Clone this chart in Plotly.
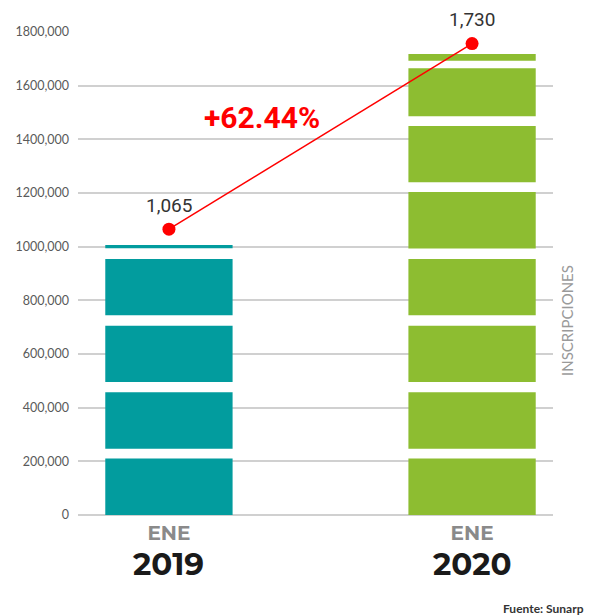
import plotly.graph_objects as go

# categories
years = ["2019", "2020"]
month_label = "ENE"

# bar segments (bottom / top, in units)
seg_2019_base = [0, 247000, 496000, 744000, 994000]
seg_2019_top = [211000, 457000, 705000, 954000, 1006000]
seg_2020_base = [0, 247000, 496000, 744000, 993000, 1240000, 1486000, 1693000]
seg_2020_top = [211000, 457000, 705000, 954000, 1204000, 1450000, 1665000, 1718000]

# trend points
point_y = [1065000, 1757000]
point_labels = ["1,065", "1,730"]
growth_label = "+62.44%"

tick_vals = [0, 200000, 400000, 600000, 800000, 1000000, 1200000, 1400000, 1600000, 1800000]
tick_text = ["0", "200,000", "400,000", "600,000", "800,000", "1000,000",
             "1200,000", "1400,000", "1600,000", "1800,000"]

colors = ["#029c9e", "#8dbd31"]

# plot area in window pixels (page body adds an 8px offset)
PX_L, PX_R, PX_T, PX_B = 78, 553, 32, 515
OFF = 8


def paper_xy(px, py):
    return (px - PX_L) / (PX_R - PX_L), (PX_B - py) / (PX_B - PX_T)


fig = go.Figure()

for year, bases, tops, col in [(years[0], seg_2019_base, seg_2019_top, colors[0]),
                               (years[1], seg_2020_base, seg_2020_top, colors[1])]:
    fig.add_trace(go.Bar(
        x=[year] * len(bases),
        base=bases,
        y=[t - b for b, t in zip(bases, tops)],
        marker_color=col,
        marker_line_width=0,
        width=0.42,
        showlegend=False,
        hoverinfo="skip"
    ))

fig.add_trace(go.Scatter(
    x=years,
    y=point_y,
    mode="lines+markers",
    line=dict(color="#ff0000", width=1.5),
    marker=dict(color="#ff0000", size=13),
    showlegend=False,
    cliponaxis=False
))

for i, (yv, lab) in enumerate(zip(point_y, point_labels)):
    fig.add_annotation(x=i, y=yv, text=lab, showarrow=False, yshift=24,
                       font=dict(family="Roboto, Arial", size=19, color="#333333"))

for i, year in enumerate(years):
    fig.add_annotation(x=i, y=0, yref="paper", text="<b>" + year + "</b>",
                       showarrow=False, yanchor="middle", yshift=-49,
                       font=dict(family="Montserrat, 'Open Sans', Arial", size=31, color="#1a1a1a"))

gx, gy = paper_xy(262, 118)
fig.add_annotation(x=gx, y=gy, xref="paper", yref="paper", text="<b>" + growth_label + "</b>",
                   showarrow=False, xanchor="center", yanchor="middle",
                   font=dict(family="Roboto, Arial", size=30, color="#ff0000"))

ix, iy = paper_xy(578, 321)
fig.add_annotation(x=ix, y=iy, text="INSCRIPCIONES", textangle=-90, showarrow=False,
                   xref="paper", yref="paper",
                   font=dict(family="Lato, Arial", size=15, color="#9a9a9a"))

fx, fy = paper_xy(586, 608)
fig.add_annotation(x=fx, y=fy, xref="paper", yref="paper", text="<b>Fuente: Sunarp</b>",
                   showarrow=False, xanchor="right", yanchor="middle",
                   font=dict(family="Lato, Arial", size=12, color="#333333"))

fig.update_layout(
    width=602 - OFF, height=615 - OFF,
    margin=dict(l=PX_L - OFF, r=602 - PX_R, t=PX_T - OFF, b=615 - PX_B),
    barmode="overlay",
    plot_bgcolor="white",
    paper_bgcolor="white",
    xaxis=dict(
        type="category",
        range=[-0.3, 1.267],
        tickvals=years,
        ticktext=["<b>" + month_label + "</b>"] * 2,
        tickfont=dict(family="Montserrat, 'Open Sans', Arial", size=20, color="#8a8a8a"),
        showgrid=False, showline=False, zeroline=False,
        ticks="", ticklabelstandoff=4,
        automargin=False
    ),
    yaxis=dict(
        range=[0, 1800000],
        tickvals=tick_vals,
        ticktext=tick_text,
        tickfont=dict(family="Lato, Arial", size=12.5, color="#5a5a5a"),
        showgrid=True, gridcolor="#d0d0d0", gridwidth=1.5,
        zeroline=True, zerolinecolor="#d0d0d0", zerolinewidth=1.5,
        ticklabelstandoff=8,
        showline=False,
        automargin=False
    ),
    font=dict(family="Lato, Arial")
)

fig.write_html("out.html")
